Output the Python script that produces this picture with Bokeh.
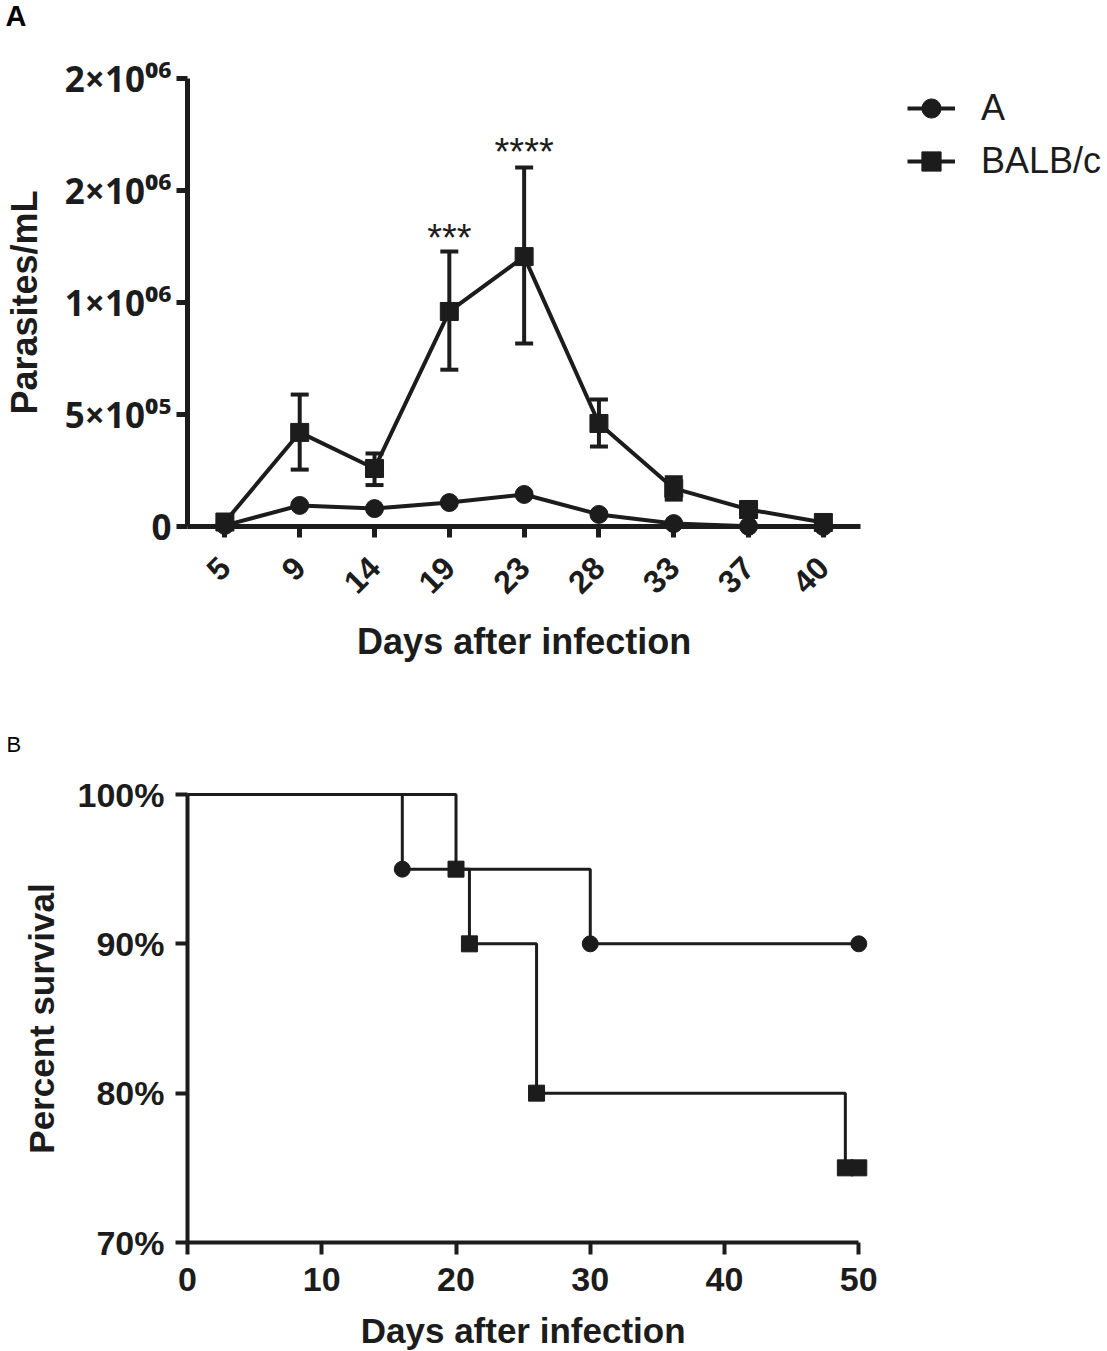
from bokeh.plotting import figure
from bokeh.models import (Range1d, FixedTicker, Legend, LegendItem,
                          Whisker, TeeHead, ColumnDataSource)
from bokeh.layouts import column
from bokeh.embed import file_html
from bokeh.resources import INLINE
from bokeh.core.properties import value
from math import pi

# ---------------- data: panel A ----------------
days = ["5", "9", "14", "19", "23", "28", "33", "37", "40"]
a_mean = [5e3, 94e3, 80e3, 107e3, 143e3, 54e3, 13e3, 1e3, 0.0]
balb_mean = [20e3, 420e3, 259e3, 960e3, 1205e3, 460e3, 170e3, 76e3, 18e3]

err_days = ["9", "14", "19", "23", "28", "33"]
err_upper = [589e3, 326e3, 1228e3, 1603e3, 567e3, 220e3]
err_lower = [254e3, 185e3, 700e3, 817e3, 357e3, 120e3]

y_ticks = [0, 500000, 1000000, 1500000, 2000000]
y_tick_labels = ["0", "5×10⁰⁵", "1×10⁰⁶", "2×10⁰⁶", "2×10⁰⁶"]

sig_days = ["19", "23"]
sig_text = ["***", "****"]
sig_y = [1290e3, 1670e3]

series_names = ["A", "BALB/c"]
panel_labels = ["A", "B"]
x_title = "Days after infection"

# ---------------- data: panel B ----------------
surv_a_days = [0, 16, 30, 50]
surv_a_pct = [100, 95, 90, 90]
surv_a_mark_days = [16, 30, 50]
surv_a_mark_pct = [95, 90, 90]

surv_b_days = [0, 20, 21, 26, 49, 50]
surv_b_pct = [100, 95, 90, 80, 75, 75]
surv_b_mark_days = [20, 21, 26, 49, 50]
surv_b_mark_pct = [95, 90, 80, 75, 75]

x2_ticks = [0, 10, 20, 30, 40, 50]
y2_ticks = [70, 80, 90, 100]
y2_tick_labels = ["70%", "80%", "90%", "100%"]

INK = "#1c1c1c"
FONT = "Liberation Sans"
W = 1107
LEFT = 186

# category positions on the x axis of panel A
xpos = {d: i for i, d in enumerate(days)}


def style_axis(ax, lw, fs, tick=11):
    ax.axis_line_width = lw
    ax.axis_line_color = INK
    ax.major_tick_line_width = lw
    ax.major_tick_line_color = INK
    ax.major_tick_out = tick
    ax.major_tick_in = 0
    ax.minor_tick_line_color = None
    ax.major_label_text_font = FONT
    ax.major_label_text_font_style = "bold"
    ax.major_label_text_font_size = fs
    ax.major_label_text_color = INK
    ax.axis_label_text_font = FONT
    ax.axis_label_text_font_style = "bold"
    ax.axis_label_text_color = INK


# ================= Panel A =================
# the frame runs to the right edge (legend sits inside it); the axis itself is bounded
n = len(days)
x_end = -0.5 + n * (W - LEFT) / 674.0
pA = figure(width=W, height=692,
            x_range=Range1d(-0.5, x_end),
            y_range=Range1d(0, 2e6),
            output_backend="svg", toolbar_location=None,
            min_border_left=LEFT, min_border_right=0,
            min_border_top=78, min_border_bottom=166)
pA.outline_line_color = None
pA.grid.visible = False

srcA = ColumnDataSource(dict(x=[xpos[d] for d in days], y=a_mean))
srcB = ColumnDataSource(dict(x=[xpos[d] for d in days], y=balb_mean))
srcE = ColumnDataSource(dict(x=[xpos[d] for d in err_days], upper=err_upper, lower=err_lower))

wh = Whisker(source=srcE, base="x", upper="upper", lower="lower", dimension="height",
             line_width=4, line_color=INK,
             upper_head=TeeHead(size=18, line_width=4, line_color=INK),
             lower_head=TeeHead(size=18, line_width=4, line_color=INK))
pA.add_layout(wh)

lB = pA.line("x", "y", source=srcB, line_width=4, line_color=INK)
mB = pA.scatter("x", "y", source=srcB, marker="square", size=18, color=INK)
lA = pA.line("x", "y", source=srcA, line_width=4, line_color=INK)
mA = pA.scatter("x", "y", source=srcA, marker="circle", size=18, color=INK)
for r in (lA, mA, lB, mB):
    r.level = "overlay"

tS = pA.text(x=[xpos[d] for d in sig_days], y=sig_y, text=sig_text, text_align="center",
             text_baseline="middle", text_font=value(FONT), text_font_size="38px",
             text_color=INK)
tS.level = "overlay"

# panel letter, floated to the top-left corner of the canvas
tPA = pA.text(x=[-0.5], y=[2e6], text=[panel_labels[0]], x_offset=-182, y_offset=-79,
              text_align="left", text_baseline="top", text_font=value(FONT),
              text_font_size="29px", text_font_style="bold", text_color="black")
tPA.level = "overlay"

style_axis(pA.xaxis[0], 5, "32px")
style_axis(pA.yaxis[0], 5, "35px")
pA.yaxis.major_label_text_font = "Noto Sans"
pA.yaxis.axis_label = "Parasites/mL"
pA.yaxis.axis_label_text_font_size = "36px"
pA.xaxis.ticker = FixedTicker(ticks=list(range(n)))
pA.xaxis.major_label_overrides = {i: d for i, d in enumerate(days)}
pA.xaxis.bounds = (-0.5, n - 0.5)
pA.xaxis.major_label_orientation = pi / 4
pA.xaxis.major_label_standoff = 25
pA.yaxis.ticker = FixedTicker(ticks=y_ticks)
pA.yaxis.major_label_overrides = {t: l for t, l in zip(y_ticks, y_tick_labels)}
pA.yaxis.major_label_standoff = 5
pA.yaxis.axis_label_standoff = 17

leg = Legend(items=[LegendItem(label=series_names[0], renderers=[lA, mA]),
                    LegendItem(label=series_names[1], renderers=[lB, mB])],
             location=(720, 340), glyph_width=48, glyph_height=50, spacing=3,
             padding=0, margin=0, label_standoff=26,
             label_text_font=FONT, label_text_font_size="36px", label_text_color=INK,
             border_line_color=None, background_fill_alpha=0)
pA.add_layout(leg)

# x axis title centred on the bounded axis
tXA = pA.text(x=[(n - 1) / 2.0], y=[0], text=[x_title], y_offset=115,
              text_align="center", text_baseline="middle", text_font=value(FONT),
              text_font_size="36px", text_font_style="bold", text_color=INK)
tXA.level = "overlay"

# ================= Panel B =================
x2_end = 50 * (W - LEFT) / 672.0
pB = figure(width=W, height=659,
            x_range=Range1d(0, x2_end), y_range=Range1d(70, 100),
            output_backend="svg", toolbar_location=None,
            min_border_left=LEFT, min_border_right=0,
            min_border_top=102, min_border_bottom=109)
pB.outline_line_color = None
pB.grid.visible = False

s1 = pB.step(surv_a_days, surv_a_pct, mode="after", line_width=3, line_color=INK)
s2 = pB.step(surv_b_days, surv_b_pct, mode="after", line_width=3, line_color=INK)
m1 = pB.scatter(surv_a_mark_days, surv_a_mark_pct, marker="circle", size=16, color=INK)
m2 = pB.scatter(surv_b_mark_days, surv_b_mark_pct, marker="square", size=16, color=INK)
for r in (s1, s2, m1, m2):
    r.level = "overlay"

tPB = pB.text(x=[0], y=[100], text=[panel_labels[1]], x_offset=-181, y_offset=-63,
              text_align="left", text_baseline="top", text_font=value(FONT),
              text_font_size="22px", text_color="black")
tPB.level = "overlay"

style_axis(pB.xaxis[0], 4, "34px", tick=12)
style_axis(pB.yaxis[0], 4, "34px", tick=12)
pB.yaxis.axis_label = "Percent survival"
pB.yaxis.axis_label_text_font_size = "35px"
pB.xaxis.ticker = FixedTicker(ticks=x2_ticks)
pB.xaxis.bounds = (0, 50)
pB.yaxis.ticker = FixedTicker(ticks=y2_ticks)
pB.yaxis.major_label_overrides = {t: l for t, l in zip(y2_ticks, y2_tick_labels)}
pB.xaxis.major_label_standoff = 13
pB.yaxis.major_label_standoff = 11
pB.yaxis.axis_label_standoff = 14

tXB = pB.text(x=[25], y=[70], text=[x_title], y_offset=88,
              text_align="center", text_baseline="middle", text_font=value(FONT),
              text_font_size="35px", text_font_style="bold", text_color=INK)
tXB.level = "overlay"

layout = column(pA, pB)
open("out.html", "w").write(file_html(layout, INLINE))
